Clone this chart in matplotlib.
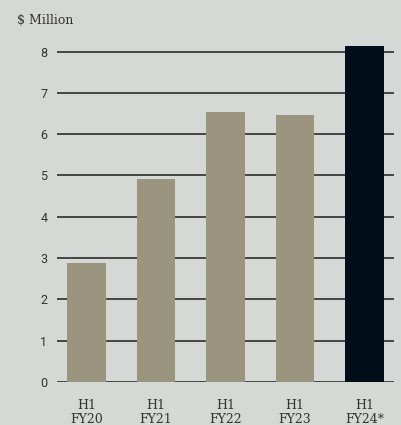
import matplotlib
matplotlib.use("Agg")
import matplotlib.pyplot as plt

# half-year results, $ million
periods = ["H1\nFY20", "H1\nFY21", "H1\nFY22", "H1\nFY23", "H1\nFY24*"]
values = [2.88, 4.91, 6.53, 6.46, 8.13]
bar_colors = ["#9b9580", "#9b9580", "#9b9580", "#9b9580", "#020d1a"]
yticks = [0, 1, 2, 3, 4, 5, 6, 7, 8]

bg = "#d4d9d6"

fig = plt.figure(figsize=(4.01, 4.25), dpi=100, facecolor=bg)
ax = fig.add_axes([57 / 401, 43 / 425, (394 - 57) / 401, (382 - 35) / 425])
ax.set_facecolor(bg)

x = range(len(periods))
ax.bar(x, values, width=0.56, color=bar_colors, zorder=3)

ax.set_xlim(-0.425, 4.425)
ax.set_ylim(0, 8.4)
ax.set_yticks(yticks)
ax.set_yticklabels([str(t) for t in yticks], family="Roboto", fontsize=9, color="#333333")
ax.set_xticks(list(x))
ax.set_xticklabels(periods, family="DejaVu Serif", fontsize=9, color="#333333",
                   linespacing=1.1)
ax.tick_params(axis="both", length=0)
ax.tick_params(axis="y", pad=7)
ax.tick_params(axis="x", pad=12)

for t in yticks:
    ax.axhline(t, color="#3a3a3a", lw=1.3, zorder=1)

for s in ax.spines.values():
    s.set_visible(False)

fig.text(17 / 401, 1 - 20 / 425, "$ Million", family="DejaVu Serif", fontsize=9,
         color="#333333", va="center", ha="left")

fig.savefig("out.png", dpi=100, facecolor=bg)
